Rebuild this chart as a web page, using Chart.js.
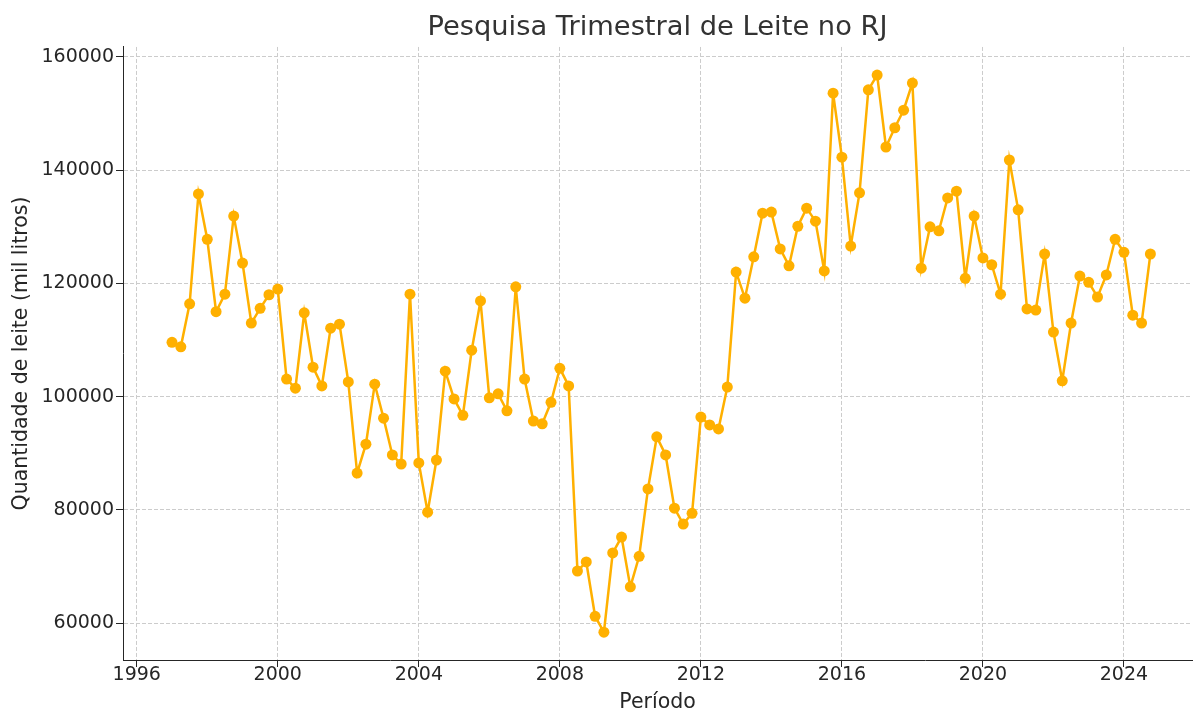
<!DOCTYPE html>
<html>
<head>
<meta charset="utf-8">
<script src="https://cdn.jsdelivr.net/npm/chart.js@4.4.1/dist/chart.umd.min.js"></script>
<style>
  html, body { margin: 0; padding: 0; background: #fff; }
  #wrap { width: 1193px; height: 709px; }
</style>
</head>
<body>
<div id="wrap"><canvas id="chart"></canvas></div>
<script>
// trimestres (ano decimal)
const periods = [
  1997.00, 1997.25, 1997.50, 1997.75,
  1998.00, 1998.25, 1998.50, 1998.75,
  1999.00, 1999.25, 1999.50, 1999.75,
  2000.00, 2000.25, 2000.50, 2000.75,
  2001.00, 2001.25, 2001.50, 2001.75,
  2002.00, 2002.25, 2002.50, 2002.75,
  2003.00, 2003.25, 2003.50, 2003.75,
  2004.00, 2004.25, 2004.50, 2004.75,
  2005.00, 2005.25, 2005.50, 2005.75,
  2006.00, 2006.25, 2006.50, 2006.75,
  2007.00, 2007.25, 2007.50, 2007.75,
  2008.00, 2008.25, 2008.50, 2008.75,
  2009.00, 2009.25, 2009.50, 2009.75,
  2010.00, 2010.25, 2010.50, 2010.75,
  2011.00, 2011.25, 2011.50, 2011.75,
  2012.00, 2012.25, 2012.50, 2012.75,
  2013.00, 2013.25, 2013.50, 2013.75,
  2014.00, 2014.25, 2014.50, 2014.75,
  2015.00, 2015.25, 2015.50, 2015.75,
  2016.00, 2016.25, 2016.50, 2016.75,
  2017.00, 2017.25, 2017.50, 2017.75,
  2018.00, 2018.25, 2018.50, 2018.75,
  2019.00, 2019.25, 2019.50, 2019.75,
  2020.00, 2020.25, 2020.50, 2020.75,
  2021.00, 2021.25, 2021.50, 2021.75,
  2022.00, 2022.25, 2022.50, 2022.75,
  2023.00, 2023.25, 2023.50, 2023.75,
  2024.00, 2024.25, 2024.50, 2024.75
]

// quantidade de leite (mil litros)
const milk = [
  109600, 108800, 116400, 135800,
  127800, 115000, 118100, 131900,
  123600, 113000, 115600, 118000,
  119000, 103100, 101500, 114800,
  105200, 101900, 112100, 112800,
  102600, 86500, 91600, 102200,
  96200, 89700, 88100, 118100,
  88300, 79600, 88800, 104500,
  99600, 96700, 108200, 116900,
  99800, 100500, 97500, 119400,
  103100, 95700, 95200, 99000,
  105000, 101900, 69200, 70800,
  61200, 58400, 72400, 75200,
  66400, 71800, 83700, 92900,
  89700, 80300, 77500, 79400,
  96400, 95000, 94300, 101700,
  122000, 117400, 124700, 132400,
  132600, 126100, 123100, 130100,
  133300, 131000, 122200, 153600,
  142300, 126600, 136000, 154200,
  156800, 144100, 147500, 150600,
  155400, 122700, 130000, 129300,
  135100, 136300, 120900, 131900,
  124500, 123300, 118100, 141800,
  133000, 115500, 115300, 125200,
  111400, 102800, 113000, 121300,
  120200, 117600, 121500, 127800,
  125500, 114400, 113000, 125200
]

const xTicks = [1996, 2000, 2004, 2008, 2012, 2016, 2020, 2024]
const yTicks = [60000, 80000, 100000, 120000, 140000, 160000]

const lineColor = '#ffb000'
const textColor = '#262626'
const gridColor = '#cccccc'

const points = periods.map((p, i) => ({ x: p, y: milk[i] }))

new Chart(document.getElementById('chart'), {
  type: 'line',
  data: {
    datasets: [{
      label: 'Quantidade de leite',
      data: points,
      borderColor: lineColor,
      backgroundColor: lineColor,
      borderWidth: 2.5,
      pointRadius: 5.5,
      pointBorderWidth: 0,
      pointBackgroundColor: lineColor,
      tension: 0,
      fill: false
    }]
  },
  options: {
    responsive: true,
    maintainAspectRatio: false,
    devicePixelRatio: 1,
    animation: false,
    layout: {
      autoPadding: false,
      padding: { left: 0, right: 1, top: 0, bottom: 0 }
    },
    plugins: {
      legend: { display: false },
      tooltip: { enabled: false },
      title: {
        display: true,
        fullSize: false,
        text: 'Pesquisa Trimestral de Leite no RJ',
        color: '#333333',
        font: { family: 'DejaVu Sans', size: 27.3, weight: 'normal', lineHeight: 1.2 },
        padding: { top: 12, bottom: 2.2 }
      }
    },
    scales: {
      x: {
        type: 'linear',
        min: 1995.61,
        max: 2025.93,
        afterBuildTicks: (axis) => {
          axis.ticks = xTicks.map(v => ({ value: v }))
        },
        afterFit: (axis) => {
          axis.height = 49
        },
        grid: {
          display: true,
          drawOnChartArea: true,
          drawTicks: true,
          color: gridColor,
          lineWidth: 1,
          tickLength: 7,
          tickColor: textColor,
          tickWidth: 1,
          tickBorderDash: []
        },
        border: {
          display: true,
          color: textColor,
          width: 1,
          dash: [4, 2]
        },
        ticks: {
          color: textColor,
          padding: -3,
          maxRotation: 0,
          autoSkip: false,
          font: { family: 'DejaVu Sans', size: 19 },
          callback: (v) => String(v)
        },
        title: {
          display: true,
          text: 'Período',
          color: textColor,
          font: { family: 'DejaVu Sans', size: 20.5, lineHeight: '13px' },
          padding: { top: 0, bottom: 0 }
        }
      },
      y: {
        type: 'linear',
        min: 53480,
        max: 161770,
        afterBuildTicks: (axis) => {
          axis.ticks = yTicks.map(v => ({ value: v }))
        },
        afterFit: (axis) => {
          axis.width = 123
        },
        grid: {
          display: true,
          drawOnChartArea: true,
          drawTicks: true,
          color: gridColor,
          lineWidth: 1,
          tickLength: 7,
          tickColor: textColor,
          tickWidth: 1,
          tickBorderDash: []
        },
        border: {
          display: true,
          color: textColor,
          width: 1,
          dash: [4, 2]
        },
        ticks: {
          color: textColor,
          padding: 2,
          autoSkip: false,
          font: { family: 'DejaVu Sans', size: 19 },
          callback: (v) => String(v)
        },
        title: {
          display: true,
          text: 'Quantidade de leite (mil litros)',
          color: textColor,
          font: { family: 'DejaVu Sans', size: 20.5, lineHeight: 1.2 },
          padding: { top: 9, bottom: 0 }
        }
      }
    }
  }
})
</script>
</body>
</html>
